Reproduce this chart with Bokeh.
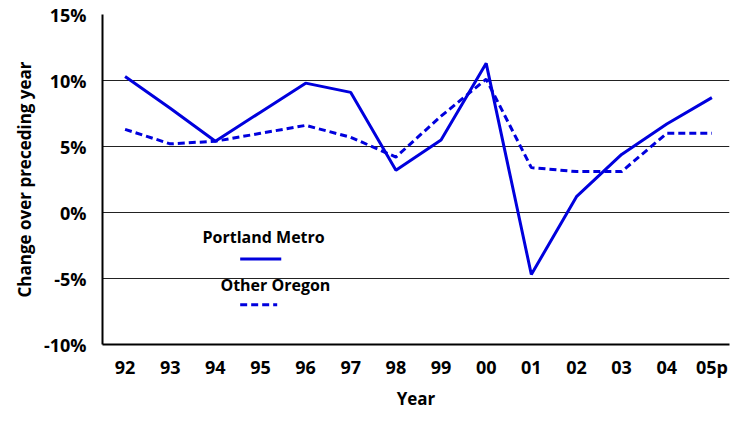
from bokeh.plotting import figure
from bokeh.models import FixedTicker, PrintfTickFormatter, Label, Range1d
from bokeh.embed import file_html
from bokeh.resources import INLINE

years = ["92", "93", "94", "95", "96", "97", "98", "99", "00", "01", "02", "03", "04", "05p"]
portland = [10.3, 7.9, 5.4, 7.6, 9.8, 9.1, 3.2, 5.5, 11.3, -4.7, 1.2, 4.4, 6.7, 8.7]
other = [6.3, 5.2, 5.4, 6.0, 6.6, 5.7, 4.2, 7.3, 10.1, 3.4, 3.1, 3.1, 6.0, 6.0]
y_ticks = [-10, -5, 0, 5, 10, 15]

FONT = "Open Sans"
BLUE = "#0000dd"

xs = list(range(len(years)))

p = figure(width=731, height=412, output_backend="svg", toolbar_location=None,
           x_range=Range1d(-0.5, 13.39), y_range=Range1d(-10, 15),
           min_border_left=102, min_border_right=2, min_border_top=14, min_border_bottom=64)
p.outline_line_color = None
p.background_fill_color = "white"
p.border_fill_color = "white"

p.line(xs, portland, line_color=BLUE, line_width=3)
p.line(xs, other, line_color=BLUE, line_width=3, line_dash="7 4")

# legend keys
p.line([2.55, 3.46], [-3.53, -3.53], line_color=BLUE, line_width=3)
p.line([2.55, 3.37], [-6.99, -6.99], line_color=BLUE, line_width=3, line_dash="7 4")
p.add_layout(Label(x=3.07, y=-1.84, text="Portland Metro", text_font=FONT,
                   text_font_style="bold", text_font_size="16px", text_align="center",
                   text_baseline="middle", text_color="black"))
p.add_layout(Label(x=3.33, y=-5.5, text="Other Oregon", text_font=FONT,
                   text_font_style="bold", text_font_size="16px", text_align="center",
                   text_baseline="middle", text_color="black"))

# axes
p.xaxis.ticker = FixedTicker(ticks=xs)
p.xaxis.major_label_overrides = {i: y for i, y in enumerate(years)}
p.yaxis.ticker = FixedTicker(ticks=y_ticks)
p.yaxis.formatter = PrintfTickFormatter(format="%d%%")

for ax in (p.xaxis[0], p.yaxis[0]):
    ax.major_tick_line_color = None
    ax.minor_tick_line_color = None
    ax.major_label_text_font = FONT
    ax.major_label_text_font_style = "bold"
    ax.major_label_text_font_size = "18px"
    ax.major_label_text_color = "black"
    ax.axis_label_text_font = FONT
    ax.axis_label_text_font_style = "bold"
    ax.axis_label_text_font_size = "17px"
    ax.axis_label_text_color = "black"
    ax.axis_line_color = "black"
    ax.axis_line_width = 2

p.xaxis.axis_label = "Year"
p.yaxis.axis_label = "Change over preceding year"
p.xaxis.major_label_standoff = 4
p.xaxis.axis_label_standoff = 5
p.yaxis.major_label_standoff = 10
p.yaxis.axis_label_standoff = 5

p.xgrid.grid_line_color = None
p.ygrid.grid_line_color = "#222222"
p.ygrid.grid_line_width = 1

open("out.html", "w").write(file_html(p, INLINE))
